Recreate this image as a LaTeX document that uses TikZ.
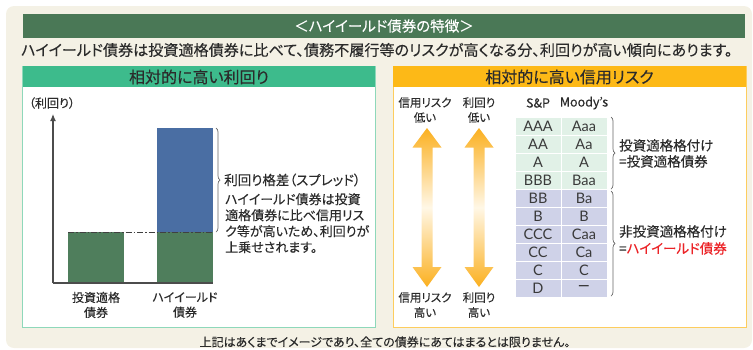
\documentclass[tikz,border=0pt]{standalone}
\usepackage{fontspec}
\setmainfont{Noto Sans CJK JP}[RawFeature=+palt,FakeBold=0.15]
\newfontfamily\geofont{Lato}
\usetikzlibrary{decorations.pathreplacing,arrows.meta}
\definecolor{bgbeige}{HTML}{F4F1E5}
\definecolor{titlegreen}{HTML}{4A7856}
\definecolor{hdgreen}{HTML}{3DBB8C}
\definecolor{bdgreen}{HTML}{8ED8BA}
\definecolor{hdorange}{HTML}{FDB917}
\definecolor{bdorange}{HTML}{FDCD5E}
\definecolor{bargreen}{HTML}{4F7E5C}
\definecolor{barblue}{HTML}{4A6EA3}
\definecolor{cellgreen}{HTML}{E1F1E7}
\definecolor{cellblue}{HTML}{CFD2E8}
\definecolor{txt}{HTML}{2B2B2B}
\definecolor{celltxt}{HTML}{3A3A3A}
\definecolor{redtxt}{HTML}{EC2327}
\definecolor{arrorange}{HTML}{FBB01F}
\definecolor{arrpale}{HTML}{FFF7E6}
\begin{document}
\begin{tikzpicture}[x=1pt,y=-1pt,
  every node/.style={inner sep=0pt,text=txt},
  hdtext/.style={font=\fontsize{16}{18}\selectfont},
  lbl/.style={font=\fontsize{12}{15}\selectfont,align=center},
  rlbl/.style={font=\fontsize{11.5}{15}\selectfont,align=center},
  body/.style={font=\fontsize{13}{16}\selectfont,align=left,anchor=north west},
  cell/.style={draw=white,line width=1pt},
  celltext/.style={font=\geofont\fontsize{14.5}{15}\selectfont,text=celltxt},
  bracebr/.style={draw=black!60,line width=0.7pt,decorate,decoration={brace,amplitude=4pt}},
  upshade/.style={top color=arrorange,bottom color=arrorange,middle color=arrpale}]
\useasboundingbox (0,0) rectangle (753,349);
\fill[bgbeige,rounded corners=8pt] (6,6) rectangle (752,348);
% title
\fill[titlegreen] (22.7,14) rectangle (745,38);
\node[font=\fontsize{14.5}{16}\selectfont,text=white] (title) at (384,26) {＜ハイイールド債券の特徴＞};
\node[anchor=west,font=\fontsize{15.1}{17}\selectfont] (sub) at (21,50) {ハイイールド債券は投資適格債券に比べて、債務不履行等のリスクが高くなる分、利回りが高い傾向にあります。};
% left panel
\draw[bdgreen,line width=1pt,fill=white] (22.7,66) rectangle (375,327);
\fill[hdgreen] (22.7,66) rectangle (375,87);
\node[hdtext] (lhd) at (199,77) {相対的に高い利回り};
% right panel
\draw[bdorange,line width=1pt,fill=white] (393,66) rectangle (746,327);
\fill[hdorange] (393,66) rectangle (746,87);
\node[hdtext] (rhd) at (569.5,77) {相対的に高い信用リスク};
% chart
\node[lbl] (ylab) at (52,103) {（利回り）};
\fill[bargreen] (68,232) rectangle (124,283);
\fill[bargreen] (157,232) rectangle (213,283);
\fill[barblue] (157,128) rectangle (213,232);
\coordinate (o) at (53,283);
\coordinate (ytop) at (53,114);
\coordinate (xend) at (213,283);
\draw[black!70,line width=1.1pt,-{Latex[length=7pt,width=6pt]}] (o) -- (ytop);
\draw[black!70,line width=1.1pt] (o) -- (xend);
\coordinate (d1) at (68,232);
\coordinate (d2) at (213,232);
\draw[black!75,line width=1pt,dash pattern=on 6pt off 2pt on 1.5pt off 2pt] (d1) -- (d2);
\coordinate (b1t) at (216,128);
\coordinate (b1b) at (216,232);
\draw[bracebr] (b1t) -- (b1b);
\node[anchor=west,font=\fontsize{13.5}{15}\selectfont] (spread) at (224,180) {利回り格差（スプレッド）};
\node[body] (desc) at (225,193) {ハイイールド債券は投資\\適格債券に比べ信用リス\\ク等が高いため、利回りが\\上乗せされます。};
\node[lbl] (x1) at (96,305) {投資適格\\債券};
\node[lbl] (x2) at (185,305) {ハイイールド\\債券};
% right: arrows
\foreach \cx/\nm in {427/a1,479/a2}{
  \shade[upshade] (\cx,128) -- (\cx+14.5,147.5) -- (\cx+5.5,147.5) -- (\cx+5.5,267) -- (\cx+14.5,267) -- (\cx,287) -- (\cx-14.5,267) -- (\cx-5.5,267) -- (\cx-5.5,147.5) -- (\cx-14.5,147.5) -- cycle;
}
\node[rlbl] (l1t) at (425,110) {信用リスク\\低い};
\node[rlbl] (l2t) at (479,110) {利回り\\低い};
\node[rlbl] (l1b) at (425,305) {信用リスク\\高い};
\node[rlbl] (l2b) at (479,305) {利回り\\高い};
\node[font=\fontsize{12.5}{15}\selectfont] (sp) at (538,103) {S\&P};
\node[font=\fontsize{12.5}{15}\selectfont] (md) at (584,103) {Moody's};
% table
\foreach \a/\b [count=\i from 0] in {AAA/Aaa,AA/Aa,A/A,BBB/Baa,BB/Ba,B/B,CCC/Caa,CC/Ca,C/C,D/{\bfseries —}}{
  \pgfmathsetmacro{\yt}{117+18*\i}
  \ifnum\i<4 \def\cc{cellgreen}\else\def\cc{cellblue}\fi
  \draw[cell,fill=\cc] (515,\yt) rectangle (561,\yt+18);
  \draw[cell,fill=\cc] (561,\yt) rectangle (607,\yt+18);
  \node[celltext] (s\i) at (538,\yt+9.5) {\a};
  \node[celltext] (m\i) at (584,\yt+9.5) {\b};
}
\coordinate (b2t) at (611,117);
\coordinate (b2b) at (611,189);
\coordinate (b3t) at (611,191);
\coordinate (b3b) at (611,296);
\draw[bracebr] (b2t) -- (b2b);
\draw[bracebr] (b3t) -- (b3b);
\node[body,font=\fontsize{13.5}{16}\selectfont] (ig) at (619,139) {投資適格格付け\\=投資適格債券};
\node[body,font=\fontsize{13.5}{17}\selectfont] (hy) at (619,225) {非投資適格格付け\\=\textcolor{redtxt}{ハイイールド債券}};
% footer
\node[font=\fontsize{12}{13}\selectfont] (foot) at (385,342) {上記はあくまでイメージであり、全ての債券にあてはまるとは限りません。};
\end{tikzpicture}
\end{document}
